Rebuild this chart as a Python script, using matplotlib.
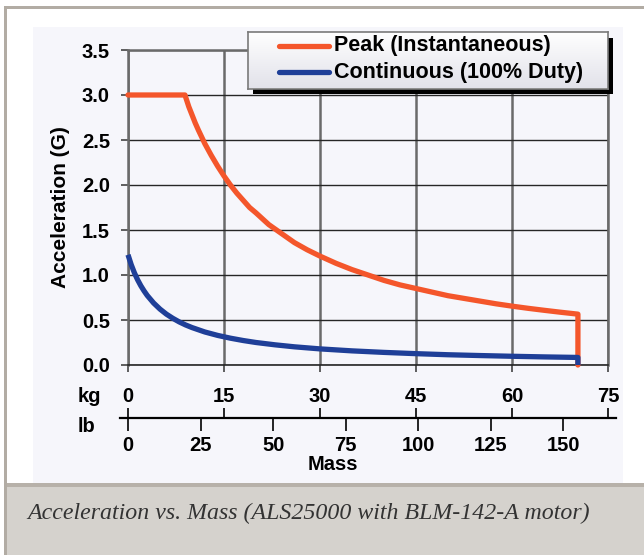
import numpy as np
import matplotlib
matplotlib.use("Agg")
import matplotlib.pyplot as plt
from matplotlib.patches import Rectangle
from matplotlib.colors import LinearSegmentedColormap

# ---------------- data ----------------
mass_peak = [0, 8.9, 9.5, 10, 10.5, 11, 12, 13, 14, 15, 16, 17, 18, 19, 20, 22, 24, 26, 28, 30,
             32.5, 35, 37.5, 40, 42.5, 45, 47.5, 50, 52.5, 55, 57.5, 60, 62.5, 65, 67.5, 70.3, 70.3]
accel_peak = [3.0, 3.0, 2.87, 2.78, 2.69, 2.61, 2.46, 2.33, 2.21, 2.10, 2.00, 1.91, 1.83, 1.75, 1.69,
              1.56, 1.46, 1.36, 1.28, 1.21, 1.13, 1.06, 1.00, 0.94, 0.89, 0.85, 0.81, 0.77, 0.74,
              0.71, 0.68, 0.654, 0.63, 0.608, 0.587, 0.565, 0.0]

mass_cont = [0, 0.5, 1, 1.5, 2, 2.5, 3, 4, 5, 6, 7, 8, 9, 10, 12, 14, 16, 18, 20, 23, 26, 30,
             35, 40, 45, 50, 55, 60, 65, 70.3, 70.3]
accel_cont = [1.225, 1.115, 1.024, 0.947, 0.881, 0.824, 0.773, 0.689, 0.621, 0.565, 0.519, 0.479,
              0.445, 0.416, 0.367, 0.329, 0.298, 0.272, 0.250, 0.224, 0.202, 0.179, 0.157, 0.140,
              0.126, 0.114, 0.105, 0.097, 0.090, 0.084, 0.0]

series_labels = ["Peak (Instantaneous)", "Continuous (100% Duty)"]
series_colors = ["#f4562b", "#1f3f98"]

y_ticks = [0.0, 0.5, 1.0, 1.5, 2.0, 2.5, 3.0, 3.5]
kg_ticks = [0, 15, 30, 45, 60, 75]
lb_ticks = [0, 25, 50, 75, 100, 125, 150]
LB_TO_KG = 0.45359237

y_label = "Acceleration (G)"
x_label = "Mass"
caption = "Acceleration vs. Mass (ALS25000 with BLM-142-A motor)"

# ---------------- figure ----------------
W, H = 644, 555
fig = plt.figure(figsize=(W / 100, H / 100), dpi=100)
fig.patch.set_facecolor("white")


def fx(x):
    return x / W


def fy(y):
    return 1 - y / H


def rect(x0, y0, x1, y1, color, z):
    r = Rectangle((fx(x0), fy(y1)), (x1 - x0) / W, (y1 - y0) / H,
                  transform=fig.transFigure, facecolor=color, edgecolor="none", zorder=z)
    fig.patches.append(r)


# frame / panels
rect(0, 0, W, H, "white", -10)
rect(33, 27, 623, 483, "#f6f6fb", -9)
rect(5, 484, W, H, "#d5d2cd", -9)
rect(5, 483, W, 487, "#b7b1a9", -8)
rect(4, 6, W, 9, "#b2aca4", -8)
rect(4, 6, 7, H, "#b2aca4", -8)

bold = dict(family="Liberation Sans", weight="bold")

# ---------------- main axes ----------------
ax = fig.add_axes([fx(128), fy(365), 480 / W, 315 / H])
ax.set_facecolor("#f6f6fb")
ax.set_xlim(0, 75)
ax.set_ylim(0, 3.5)
ax.set_yticks(y_ticks)
ax.set_yticklabels([f"{v:.1f}" for v in y_ticks], **bold, fontsize=14.5)
ax.set_xticks(kg_ticks)
ax.set_xticklabels([])
ax.set_axisbelow(True)
ax.grid(axis="y", color="#262626", lw=1.0)
ax.grid(axis="x", color="#6a6a6a", lw=1.8)
for s in ["left", "right", "top"]:
    ax.spines[s].set_color("#6a6a6a")
    ax.spines[s].set_linewidth(1.8)
ax.spines["bottom"].set_color("#262626")
ax.spines["bottom"].set_linewidth(1.2)
ax.tick_params(axis="y", direction="out", length=5, width=1.2, color="#444444", pad=8)
ax.tick_params(axis="x", direction="out", length=5, width=1.2, color="#444444")

ax.plot(mass_peak, accel_peak, color=series_colors[0], lw=3.8, clip_on=False,
        solid_capstyle="round", solid_joinstyle="round", zorder=3)
ax.plot(mass_cont, accel_cont, color=series_colors[1], lw=3.8, clip_on=False,
        solid_capstyle="butt", solid_joinstyle="round", zorder=4)

fig.text(fx(60), fy(207), y_label, rotation=90, ha="center", va="center", fontsize=15, **bold)

# ---------------- secondary kg / lb scale ----------------
x_lo = (120 - 128) / 6.4
x_hi = (616 - 128) / 6.4
axk = fig.add_axes([fx(120), fy(428), (616 - 120) / W, 10 / H])
axk.set_xlim(x_lo, x_hi)
axk.patch.set_alpha(0)
for s in ["left", "right", "bottom"]:
    axk.spines[s].set_visible(False)
axk.spines["top"].set_linewidth(1.6)
axk.set_yticks([])
axk.xaxis.tick_top()
axk.set_xticks(kg_ticks)
axk.set_xticklabels([str(v) for v in kg_ticks], fontsize=14.5, **bold)
axk.tick_params(axis="x", direction="out", length=7, width=1.2, pad=2)

axl = fig.add_axes([fx(120), fy(418), (616 - 120) / W, 10 / H])
axl.set_xlim(x_lo, x_hi)
axl.patch.set_alpha(0)
for s in ["left", "right", "top", "bottom"]:
    axl.spines[s].set_visible(False)
axl.set_yticks([])
axl.set_xticks([v * LB_TO_KG for v in lb_ticks])
axl.set_xticklabels([str(v) for v in lb_ticks], fontsize=14.5, **bold)
axl.tick_params(axis="x", direction="out", length=9, width=1.2, pad=4)

fig.text(fx(78), fy(397), "kg", ha="left", va="center", fontsize=14.5, **bold)
fig.text(fx(78), fy(427), "lb", ha="left", va="center", fontsize=14.5, **bold)
fig.text(fx(333), fy(464), x_label, ha="center", va="center", fontsize=14.5, **bold)

# ---------------- legend ----------------
lx0, ly0, lx1, ly1 = 247.5, 32, 607.5, 88.5
sh = Rectangle((fx(lx0 + 5.5), fy(ly1 + 5.5)), (lx1 - lx0) / W, (ly1 - ly0) / H,
               transform=fig.transFigure, facecolor="black", edgecolor="none", zorder=3)
fig.patches.append(sh)
lax = fig.add_axes([fx(lx0), fy(ly1), (lx1 - lx0) / W, (ly1 - ly0) / H], zorder=5)
grad = np.linspace(0, 1, 64).reshape(-1, 1)
cmap = LinearSegmentedColormap.from_list("lg", ["#ffffff", "#e2e2ea"])
lax.imshow(grad, extent=[0, 1, 0, 1], aspect="auto", cmap=cmap, origin="upper")
lax.set_xlim(0, 1)
lax.set_ylim(0, 1)
lax.set_xticks([])
lax.set_yticks([])
for s in lax.spines.values():
    s.set_color("#7a7a7a")
    s.set_linewidth(1.2)
row_y = [0.757, 0.287]
for lbl, col, yy in zip(series_labels, series_colors, row_y):
    lax.plot([0.087, 0.226], [yy, yy], color=col, lw=3.8, solid_capstyle="round")
    lax.text(0.24, yy, lbl, ha="left", va="center", fontsize=15.5, **bold)

# ---------------- caption ----------------
fig.text(fx(27), fy(513), caption, ha="left", va="center", fontsize=17.2,
         family="Liberation Serif", style="italic", color="#333333")

fig.savefig("out.png", dpi=100)
